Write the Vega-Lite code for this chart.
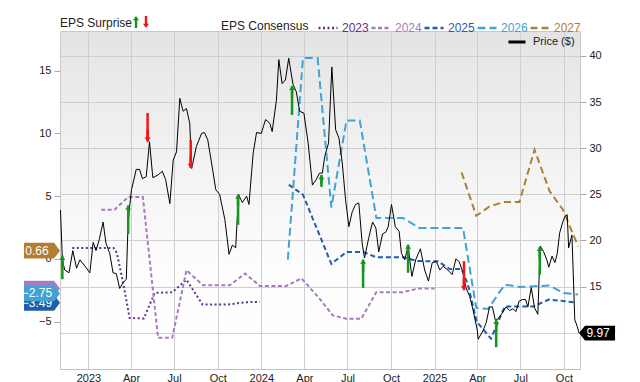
{
  "$schema": "https://vega.github.io/schema/vega-lite/v6.json",
  "width": 520,
  "height": 338,
  "autosize": {"type": "none"},
  "padding": {"left": 60, "top": 31, "right": 60, "bottom": 13},
  "config": {
    "font": "Liberation Sans",
    "view": {
      "stroke": "#c8c8c8",
      "fill": {"gradient": "linear", "x1": 0, "y1": 0, "x2": 0, "y2": 1,
        "stops": [{"offset": 0, "color": "#e3e3e3"}, {"offset": 0.12, "color": "#e9e9e9"}, {"offset": 0.7, "color": "#fdfdfd"}, {"offset": 1, "color": "#ffffff"}]}
    },
    "axis": {"labelFont": "Liberation Sans", "labelFontSize": 11, "labelColor": "#222", "title": null}
  },
  "datasets": {
    "price": [
      {"d":"2022/11/03","p":23.3},{"d":"2022/11/07","p":17.9},{"d":"2022/11/12","p":16.8},{"d":"2022/11/21","p":16.5},{"d":"2022/11/29","p":18.9},{"d":"2022/12/07","p":17.0},{"d":"2022/12/14","p":17.9},{"d":"2022/12/25","p":17.2},
      {"d":"2023/01/04","p":16.5},{"d":"2023/01/11","p":19.8},{"d":"2023/01/17","p":18.9},{"d":"2023/01/24","p":20.1},{"d":"2023/02/01","p":22.0},{"d":"2023/02/07","p":19.7},{"d":"2023/02/15","p":18.6},{"d":"2023/02/22","p":16.5},
      {"d":"2023/03/01","p":16.4},{"d":"2023/03/08","p":14.8},{"d":"2023/03/15","p":15.4},{"d":"2023/03/22","p":15.8},{"d":"2023/03/26","p":22.3},{"d":"2023/04/02","p":25.5},{"d":"2023/04/12","p":27.7},{"d":"2023/04/19","p":27.7},
      {"d":"2023/04/25","p":26.7},{"d":"2023/05/03","p":26.9},{"d":"2023/05/10","p":30.7},{"d":"2023/05/17","p":26.8},{"d":"2023/05/28","p":27.1},{"d":"2023/06/06","p":27.5},{"d":"2023/06/13","p":26.6},{"d":"2023/06/22","p":24.0},
      {"d":"2023/06/29","p":28.7},{"d":"2023/07/06","p":29.6},{"d":"2023/07/13","p":35.4},{"d":"2023/07/20","p":34.0},{"d":"2023/07/27","p":34.3},{"d":"2023/08/03","p":32.7},{"d":"2023/08/07","p":27.8},{"d":"2023/08/17","p":30.2},
      {"d":"2023/08/28","p":31.6},{"d":"2023/09/03","p":31.7},{"d":"2023/09/10","p":30.9},{"d":"2023/09/18","p":28.4},{"d":"2023/09/27","p":25.5},{"d":"2023/10/05","p":25.0},{"d":"2023/10/16","p":22.3},{"d":"2023/10/25","p":18.5},
      {"d":"2023/11/01","p":19.5},{"d":"2023/11/08","p":19.2},{"d":"2023/11/14","p":25.0},{"d":"2023/11/22","p":24.1},{"d":"2023/12/01","p":24.8},{"d":"2023/12/06","p":23.9},{"d":"2023/12/15","p":29.5},{"d":"2023/12/22","p":31.7},
      {"d":"2024/01/01","p":31.6},{"d":"2024/01/10","p":33.1},{"d":"2024/01/19","p":32.7},{"d":"2024/01/24","p":31.8},{"d":"2024/02/02","p":35.2},{"d":"2024/02/07","p":39.6},{"d":"2024/02/14","p":37.0},{"d":"2024/02/21","p":37.4},
      {"d":"2024/02/28","p":39.75},{"d":"2024/03/08","p":36.9},{"d":"2024/03/15","p":36.1},{"d":"2024/03/22","p":34.0},{"d":"2024/03/31","p":33.8},{"d":"2024/04/09","p":30.55},{"d":"2024/04/18","p":26.0},{"d":"2024/04/26","p":26.6},
      {"d":"2024/05/03","p":27.3},{"d":"2024/05/09","p":27.3},{"d":"2024/05/14","p":29.1},{"d":"2024/05/22","p":30.55},{"d":"2024/05/29","p":38.8},{"d":"2024/06/06","p":32.0},{"d":"2024/06/13","p":31.1},{"d":"2024/06/20","p":28.4},
      {"d":"2024/06/27","p":24.4},{"d":"2024/07/04","p":21.5},{"d":"2024/07/11","p":23.1},{"d":"2024/07/18","p":23.9},{"d":"2024/07/25","p":24.05},{"d":"2024/08/01","p":19.7},{"d":"2024/08/06","p":18.1},{"d":"2024/08/15","p":20.3},
      {"d":"2024/08/23","p":22.0},{"d":"2024/08/30","p":21.35},{"d":"2024/09/05","p":18.75},{"d":"2024/09/13","p":20.7},{"d":"2024/09/20","p":20.9},{"d":"2024/09/25","p":21.5},{"d":"2024/10/02","p":23.9},{"d":"2024/10/10","p":21.5},
      {"d":"2024/10/18","p":21.0},{"d":"2024/10/23","p":18.6},{"d":"2024/10/30","p":17.9},{"d":"2024/11/06","p":19.4},{"d":"2024/11/14","p":16.1},{"d":"2024/11/22","p":17.9},{"d":"2024/12/02","p":19.1},{"d":"2024/12/11","p":16.8},
      {"d":"2024/12/19","p":15.6},{"d":"2024/12/27","p":17.6},{"d":"2025/01/05","p":17.7},{"d":"2025/01/12","p":16.8},{"d":"2025/01/19","p":17.2},{"d":"2025/01/29","p":16.8},{"d":"2025/02/07","p":16.3},{"d":"2025/02/15","p":18.0},
      {"d":"2025/02/22","p":17.7},{"d":"2025/03/02","p":16.5},{"d":"2025/03/08","p":14.9},{"d":"2025/03/16","p":13.95},{"d":"2025/03/23","p":12.5},{"d":"2025/04/01","p":10.3},{"d":"2025/04/03","p":9.3},{"d":"2025/04/13","p":10.2},
      {"d":"2025/04/20","p":11.1},{"d":"2025/04/27","p":12.8},{"d":"2025/05/03","p":12.8},{"d":"2025/05/09","p":11.4},{"d":"2025/05/15","p":11.5},{"d":"2025/05/22","p":12.0},{"d":"2025/06/01","p":12.8},{"d":"2025/06/08","p":12.4},
      {"d":"2025/06/15","p":12.6},{"d":"2025/06/22","p":12.3},{"d":"2025/06/28","p":13.4},{"d":"2025/07/05","p":13.6},{"d":"2025/07/12","p":13.6},{"d":"2025/07/17","p":12.8},{"d":"2025/07/24","p":14.9},{"d":"2025/07/31","p":12.7},
      {"d":"2025/08/07","p":12.0},{"d":"2025/08/12","p":19.4},{"d":"2025/08/19","p":18.8},{"d":"2025/08/26","p":17.9},{"d":"2025/08/30","p":17.1},{"d":"2025/09/06","p":18.3},{"d":"2025/09/12","p":17.6},{"d":"2025/09/17","p":18.6},
      {"d":"2025/09/22","p":20.8},{"d":"2025/09/28","p":21.9},{"d":"2025/10/03","p":22.6},{"d":"2025/10/08","p":22.8},{"d":"2025/10/11","p":19.2},{"d":"2025/10/18","p":20.6},{"d":"2025/10/24","p":11.4},{"d":"2025/10/29","p":10.7},
      {"d":"2025/11/02","p":9.97}
    ],
    "lastprice": [{"d":"2025/11/02","p":9.97}],
    "cons": [
      {"s":"2023","d":"2022/11/28","v":0.88},{"s":"2023","d":"2023/02/23","v":0.88},{"s":"2023","d":"2023/03/02","v":0.48},{"s":"2023","d":"2023/03/14","v":-1.65},{"s":"2023","d":"2023/03/29","v":-4.7},{"s":"2023","d":"2023/04/28","v":-4.75},{"s":"2023","d":"2023/05/21","v":-2.7},{"s":"2023","d":"2023/06/27","v":-2.66},{"s":"2023","d":"2023/07/27","v":-1.65},{"s":"2023","d":"2023/08/30","v":-3.64},{"s":"2023","d":"2023/10/23","v":-3.64},{"s":"2023","d":"2023/11/27","v":-3.45},{"s":"2023","d":"2023/12/29","v":-3.42},
      {"s":"2024","d":"2023/01/28","v":3.92},{"s":"2024","d":"2023/02/25","v":3.92},{"s":"2024","d":"2023/03/26","v":4.93},{"s":"2024","d":"2023/04/26","v":4.93},{"s":"2024","d":"2023/05/28","v":-6.28},{"s":"2024","d":"2023/06/27","v":-6.28},{"s":"2024","d":"2023/07/27","v":-0.9},{"s":"2024","d":"2023/08/31","v":-2.1},{"s":"2024","d":"2023/10/26","v":-2.1},{"s":"2024","d":"2023/11/28","v":-1.17},{"s":"2024","d":"2023/12/29","v":-2.15},{"s":"2024","d":"2024/02/23","v":-2.15},{"s":"2024","d":"2024/03/26","v":-1.55},{"s":"2024","d":"2024/05/03","v":-3.16},{"s":"2024","d":"2024/05/31","v":-4.5},{"s":"2024","d":"2024/06/29","v":-4.77},{"s":"2024","d":"2024/07/30","v":-4.77},{"s":"2024","d":"2024/08/31","v":-2.65},{"s":"2024","d":"2024/10/26","v":-2.65},{"s":"2024","d":"2024/11/27","v":-2.36},{"s":"2024","d":"2025/01/01","v":-2.36},
      {"s":"2025","d":"2024/02/28","v":5.91},{"s":"2025","d":"2024/03/29","v":5.12},{"s":"2025","d":"2024/05/28","v":-0.4},{"s":"2025","d":"2024/06/29","v":0.56},{"s":"2025","d":"2024/08/03","v":0.56},{"s":"2025","d":"2024/08/31","v":0.13},{"s":"2025","d":"2024/10/28","v":0.13},{"s":"2025","d":"2024/11/25","v":-0.17},{"s":"2025","d":"2025/01/08","v":-0.19},{"s":"2025","d":"2025/02/02","v":-0.8},{"s":"2025","d":"2025/02/27","v":-0.8},{"s":"2025","d":"2025/03/12","v":-2.0},{"s":"2025","d":"2025/03/31","v":-5.0},{"s":"2025","d":"2025/04/30","v":-6.35},{"s":"2025","d":"2025/05/29","v":-3.8},{"s":"2025","d":"2025/07/28","v":-3.8},{"s":"2025","d":"2025/08/30","v":-3.24},{"s":"2025","d":"2025/10/03","v":-3.37},{"s":"2025","d":"2025/10/28","v":-3.49},
      {"s":"2026","d":"2024/02/26","v":-0.06},{"s":"2026","d":"2024/03/29","v":16.0},{"s":"2026","d":"2024/04/29","v":16.0},{"s":"2026","d":"2024/05/28","v":4.1},{"s":"2026","d":"2024/06/29","v":11.03},{"s":"2026","d":"2024/07/27","v":11.03},{"s":"2026","d":"2024/08/31","v":3.26},{"s":"2026","d":"2024/10/26","v":3.26},{"s":"2026","d":"2024/11/30","v":2.47},{"s":"2026","d":"2025/03/02","v":2.47},{"s":"2026","d":"2025/03/30","v":-3.9},{"s":"2026","d":"2025/04/24","v":-3.98},{"s":"2026","d":"2025/05/29","v":-2.04},{"s":"2026","d":"2025/06/29","v":-2.23},{"s":"2026","d":"2025/09/01","v":-2.12},{"s":"2026","d":"2025/09/29","v":-2.7},{"s":"2026","d":"2025/10/31","v":-2.84},
      {"s":"2027","d":"2025/02/27","v":6.89},{"s":"2027","d":"2025/03/30","v":3.44},{"s":"2027","d":"2025/04/27","v":4.18},{"s":"2027","d":"2025/05/26","v":4.53},{"s":"2027","d":"2025/06/29","v":4.53},{"s":"2027","d":"2025/07/31","v":8.7},{"s":"2027","d":"2025/09/01","v":5.38},{"s":"2027","d":"2025/09/29","v":3.92},{"s":"2027","d":"2025/10/31","v":1.0}
    ],
    "badges": [{"s":"2024","d":"2022/11/02","v":-2.36},{"s":"2025","d":"2022/11/02","v":-3.49},{"s":"2026","d":"2022/11/02","v":-2.75},{"s":"2027","d":"2022/11/02","v":0.66}],
    "surprise": [
      {"d":"2022/11/07","type":"beat","tip":18.35,"tail":15.8},
      {"d":"2023/03/26","type":"beat","tip":23.8,"tail":20.7},
      {"d":"2023/05/06","type":"miss","tip":30.7,"tail":33.8},
      {"d":"2023/08/05","type":"miss","tip":27.85,"tail":30.9},
      {"d":"2023/11/13","type":"beat","tip":24.97,"tail":21.7},
      {"d":"2024/03/06","type":"beat","tip":36.75,"tail":33.6},
      {"d":"2024/05/07","type":"beat","tip":27.1,"tail":26.15},
      {"d":"2024/08/03","type":"beat","tip":17.93,"tail":14.86},
      {"d":"2024/11/06","type":"beat","tip":19.55,"tail":16.5},
      {"d":"2025/03/04","type":"miss","tip":14.6,"tail":17.75},
      {"d":"2025/05/11","type":"beat","tip":11.44,"tail":8.43},
      {"d":"2025/08/11","type":"beat","tip":19.3,"tail":16.3}
    ]
  },
  "encoding": {
    "x": {
      "field": "d", "type": "temporal",
      "scale": {"domain": [{"year": 2022, "month": 11, "date": 2}, {"year": 2025, "month": 11, "date": 4}]},
      "axis": {
        "tickCount": {"interval": "month", "step": 3},
        "labelExpr": "month(datum.value) == 0 ? timeFormat(datum.value, '%Y') : timeFormat(datum.value, '%b')",
        "grid": true, "gridColor": "#cfcfcf", "ticks": false, "labelPadding": 3,
        "domain": true, "domainColor": "#c0c0c0", "labelFlush": false, "labelOverlap": false
      }
    }
  },
  "layer": [
    {
      "layer": [
        {
          "data": {"name": "cons"},
          "mark": {"type": "line", "strokeWidth": 2},
          "encoding": {
            "y": {"field": "v", "type": "quantitative", "scale": {"domain": [-8.77, 18.16], "nice": false, "zero": false},
              "axis": {"orient": "left", "values": [-5, 0, 5, 10, 15], "grid": false, "domain": false, "tickColor": "#aaaaaa", "tickSize": 6, "labelPadding": 3}},
            "color": {"field": "s", "type": "nominal",
              "scale": {"domain": ["2023", "2024", "2025", "2026", "2027"], "range": ["#5e2f8f", "#a57bc3", "#1f5fae", "#40a3d3", "#b17e33"]},
              "legend": {"orient": "none", "legendX": 161, "legendY": -14, "direction": "horizontal", "title": "EPS Consensus", "titleOrient": "left",
                "symbolType": "stroke", "symbolSize": 361, "symbolStrokeWidth": 2.5, "labelFontSize": 12, "labelOffset": 3, "columnPadding": -3,
                "titleFontSize": 12, "titleFontWeight": "normal", "titlePadding": 8, "titleColor": "#222",
                "encode": {"labels": {"update": {"fill": {"scale": "color", "field": "value"}}}}}},
            "strokeDash": {"field": "s", "type": "nominal",
              "scale": {"domain": ["2023", "2024", "2025", "2026", "2027"], "range": [[2, 2.5], [4, 2.5], [5, 3], [8, 4], [7, 4]]},
              "legend": {"orient": "none", "legendX": 161, "legendY": -14, "direction": "horizontal", "title": "EPS Consensus", "titleOrient": "left",
                "symbolType": "stroke", "symbolSize": 361, "symbolStrokeWidth": 2.5, "labelFontSize": 12, "labelOffset": 3, "columnPadding": -3,
                "titleFontSize": 12, "titleFontWeight": "normal", "titlePadding": 8, "titleColor": "#222",
                "encode": {"labels": {"update": {"fill": {"scale": "color", "field": "value"}}}}}}
          }
        },
        {
          "data": {"name": "badges"},
          "transform": [{"filter": "datum.s == '2024'"}],
          "mark": {"type": "point", "filled": true, "opacity": 1, "size": 1296, "strokeWidth": 0,
            "shape": "M0,0L-0.33,-0.44L-2,-0.44L-2,0.44L-0.33,0.44Z"},
          "encoding": {"y": {"field": "v", "type": "quantitative"}, "color": {"field": "s", "type": "nominal"}}
        },
        {
          "data": {"name": "badges"},
          "transform": [{"filter": "datum.s == '2025'"}],
          "mark": {"type": "point", "filled": true, "opacity": 1, "size": 1296, "strokeWidth": 0,
            "shape": "M0,0L-0.33,-0.44L-2,-0.44L-2,0.44L-0.33,0.44Z"},
          "encoding": {"y": {"field": "v", "type": "quantitative"}, "color": {"field": "s", "type": "nominal"}}
        },
        {
          "data": {"name": "badges"},
          "transform": [{"filter": "datum.s == '2025'"}],
          "mark": {"type": "text", "dx": -23, "align": "center", "baseline": "middle", "fill": "#ffffff", "fontSize": 12},
          "encoding": {"y": {"field": "v", "type": "quantitative"}, "text": {"field": "v", "type": "quantitative", "format": ".2f"}}
        },
        {
          "data": {"name": "badges"},
          "transform": [{"filter": "datum.s == '2026'"}],
          "mark": {"type": "point", "filled": true, "opacity": 1, "size": 1296, "strokeWidth": 0,
            "shape": "M0,0L-0.33,-0.44L-2,-0.44L-2,0.44L-0.33,0.44Z"},
          "encoding": {"y": {"field": "v", "type": "quantitative"}, "color": {"field": "s", "type": "nominal"}}
        },
        {
          "data": {"name": "badges"},
          "transform": [{"filter": "datum.s == '2026'"}],
          "mark": {"type": "text", "dx": -23, "align": "center", "baseline": "middle", "fill": "#ffffff", "fontSize": 12},
          "encoding": {"y": {"field": "v", "type": "quantitative"}, "text": {"field": "v", "type": "quantitative", "format": ".2f"}}
        },
        {
          "data": {"name": "badges"},
          "transform": [{"filter": "datum.s == '2027'"}],
          "mark": {"type": "point", "filled": true, "opacity": 1, "size": 1296, "strokeWidth": 0,
            "shape": "M0,0L-0.33,-0.44L-2,-0.44L-2,0.44L-0.33,0.44Z"},
          "encoding": {"y": {"field": "v", "type": "quantitative"}, "color": {"field": "s", "type": "nominal"}}
        },
        {
          "data": {"name": "badges"},
          "transform": [{"filter": "datum.s == '2027'"}],
          "mark": {"type": "text", "dx": -23, "align": "center", "baseline": "middle", "fill": "#ffffff", "fontSize": 12},
          "encoding": {"y": {"field": "v", "type": "quantitative"}, "text": {"field": "v", "type": "quantitative", "format": ".2f"}}
        }
      ]
    },
    {
      "layer": [
        {
          "data": {"name": "price"},
          "mark": {"type": "line", "strokeWidth": 1},
          "encoding": {
            "y": {"field": "p", "type": "quantitative", "scale": {"domain": [6.07, 42.7], "nice": false, "zero": false},
              "axis": {"orient": "right", "values": [10, 15, 20, 25, 30, 35, 40], "labelExpr": "datum.value == 10 ? '' : datum.label", "grid": true, "gridColor": "#cfcfcf", "domain": false, "tickColor": "#aaaaaa", "tickSize": 6, "labelPadding": 3}},
            "stroke": {"datum": "Price ($)", "type": "nominal", "scale": {"range": ["#000000"]},
              "legend": {"orient": "none", "legendX": 447, "legendY": 1, "title": null, "symbolType": "stroke", "symbolSize": 289,
                "symbolStrokeColor": "#6e6e6e", "symbolStrokeWidth": 3, "labelFontSize": 11, "labelOffset": 6, "labelColor": "#222"}}
          }
        },
        {
          "data": {"name": "surprise"},
          "mark": {"type": "rule", "strokeWidth": 2.5},
          "encoding": {
            "y": {"field": "tail", "type": "quantitative"},
            "y2": {"field": "tip"},
            "color": {"condition": {"test": "datum.type === 'miss'", "value": "#f01414"}, "value": "#14961e"}
          }
        },
        {
          "data": {"name": "surprise"},
          "transform": [{"filter": "datum.type === 'beat'"}],
          "mark": {"type": "point", "filled": true, "opacity": 1, "size": 36, "strokeWidth": 0, "yOffset": 6},
          "encoding": {
            "y": {"field": "tip", "type": "quantitative"},
            "fill": {"field": "type", "type": "nominal", "scale": {"domain": ["beat", "miss"], "range": ["#14961e", "#f01414"]},
              "legend": {"orient": "none", "legendX": 0, "legendY": -14, "direction": "horizontal", "title": "EPS Surprise", "titleOrient": "left",
                "labelExpr": "''", "labelOffset": 0, "symbolSize": 36, "symbolStrokeWidth": 0, "columnPadding": -2,
                "titleFontSize": 12, "titleFontWeight": "normal", "titlePadding": -2, "titleColor": "#222"}},
            "shape": {"field": "type", "type": "nominal", "scale": {"domain": ["beat", "miss"],
              "range": ["M0,-2L1,-0.6L0.4,-0.6L0.4,2L-0.4,2L-0.4,-0.6L-1,-0.6Z", "M0,2L1,0.6L0.4,0.6L0.4,-2L-0.4,-2L-0.4,0.6L-1,0.6Z"]},
              "legend": {"orient": "none", "legendX": 0, "legendY": -14, "direction": "horizontal", "title": "EPS Surprise", "titleOrient": "left",
                "labelExpr": "''", "labelOffset": 0, "symbolSize": 36, "symbolStrokeWidth": 0, "columnPadding": -2,
                "titleFontSize": 12, "titleFontWeight": "normal", "titlePadding": -2, "titleColor": "#222"}}
          }
        },
        {
          "data": {"name": "surprise"},
          "transform": [{"filter": "datum.type === 'miss'"}],
          "mark": {"type": "point", "filled": true, "opacity": 1, "size": 36, "strokeWidth": 0, "yOffset": -6},
          "encoding": {
            "y": {"field": "tip", "type": "quantitative"},
            "fill": {"field": "type", "type": "nominal"},
            "shape": {"field": "type", "type": "nominal"}
          }
        },
        {
          "data": {"name": "lastprice"},
          "mark": {"type": "point", "filled": true, "opacity": 1, "size": 1296, "strokeWidth": 0, "color": "#000000",
            "shape": "M0,0L0.33,-0.41L2,-0.41L2,0.41L0.33,0.41Z"},
          "encoding": {
            "y": {"field": "p", "type": "quantitative"}
          }
        },
        {
          "data": {"name": "lastprice"},
          "mark": {"type": "text", "dx": 19, "align": "center", "baseline": "middle", "fill": "#ffffff", "fontSize": 12},
          "encoding": {
            "y": {"field": "p", "type": "quantitative"},
            "text": {"field": "p", "type": "quantitative", "format": ".2f"}
          }
        }
      ]
    }
  ],
  "resolve": {"scale": {"y": "independent"}}
}
